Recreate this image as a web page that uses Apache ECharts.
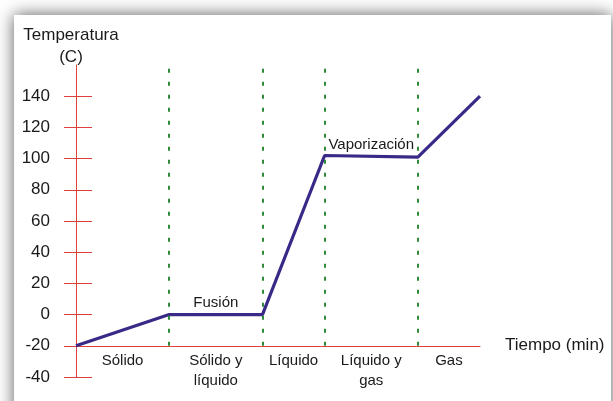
<!DOCTYPE html>
<html>
<head>
<meta charset="utf-8">
<script src="https://cdn.jsdelivr.net/npm/echarts@6/dist/echarts.min.js"></script>
<style>
html,body{margin:0;padding:0;background:#fff;}
#c{width:613px;height:401px;}
</style>
</head>
<body>
<div id="c"></div>
<script>
// Data
var timePoints = [0, 3, 6, 8, 11, 13];
var temperatures = [-20, 0, 0, 102, 101, 140];
var phaseBoundaries = [3, 6, 8, 11];
var phaseNames = ['Sólido', 'Sólido y\nlíquido', 'Líquido', 'Líquido y\ngas', 'Gas'];
var phaseCenters = [1.5, 4.5, 7, 9.5, 12];
var yTicks = [-40, -20, 0, 20, 40, 60, 80, 100, 120, 140];
var transitionLabels = ['Fusión', 'Vaporización'];
var transitionAt = [[4.5, 7.5], [9.5, 109]];

var FONT = '"Liberation Sans", Arial, Helvetica, sans-serif';
var RED = '#de4040';
var GREEN = '#2f8a3a';
var PURPLE = '#3a2a88';

var gridTop = 65, gridBottom = 24, H = 401;
var gridHeight = H - gridTop - gridBottom;
var yMin = -40, yMax = 160;
var xAxisOffset = -gridHeight * (-20 - yMin) / (yMax - yMin);

var chart = echarts.init(document.getElementById('c'), null, {renderer: 'canvas'});
var lineData = timePoints.map(function (t, i) { return [t, temperatures[i]]; });
var boundaryLines = phaseBoundaries.map(function (b) {
  return [{coord: [b, -20]}, {coord: [b, yMax]}];
});
var annoData = transitionLabels.map(function (n, i) {
  return {value: transitionAt[i], name: n};
});

chart.setOption({
  animation: false,
  backgroundColor: 'transparent',
  textStyle: {fontFamily: FONT},
  graphic: [{
    type: 'rect', z: -100, silent: true,
    shape: {x: 14, y: 15, width: 597, height: 420},
    style: {fill: '#fff', shadowBlur: 16, shadowColor: 'rgba(0,0,0,0.65)', shadowOffsetX: 0, shadowOffsetY: 0}
  }],
  grid: {left: 76, right: 133, top: gridTop, bottom: gridBottom, containLabel: false, outerBoundsMode: 'none'},
  xAxis: {
    type: 'value', min: 0, max: 13,
    position: 'bottom', offset: xAxisOffset,
    axisLine: {show: true, onZero: false, lineStyle: {color: RED, width: 1}},
    axisTick: {show: false},
    splitLine: {show: false},
    axisLabel: {
      customValues: phaseCenters,
      formatter: function (v) { return phaseNames[phaseCenters.indexOf(v)]; },
      color: '#1a1a1a', fontSize: 15, lineHeight: 20, margin: 5, fontFamily: FONT
    },
    name: 'Tiempo (min)', nameLocation: 'end', nameGap: 25,
    nameTextStyle: {color: '#1a1a1a', fontSize: 17, fontFamily: FONT, verticalAlign: 'middle'}
  },
  yAxis: [{
    type: 'value', min: yMin, max: yMax, interval: 20, position: 'left',
    axisLine: {show: true, onZero: false, lineStyle: {color: RED, width: 1}},
    axisTick: {show: true, inside: false, length: 12, customValues: yTicks, lineStyle: {color: RED, width: 1}},
    splitLine: {show: false},
    axisLabel: {customValues: yTicks, color: '#1a1a1a', fontSize: 17, margin: 26, fontFamily: FONT},
    name: 'Temperatura\n(C)', nameLocation: 'end', nameGap: -3,
    nameTextStyle: {color: '#1a1a1a', fontSize: 17, lineHeight: 22, align: 'center', verticalAlign: 'bottom', padding: [0, 10, 0, 0], fontFamily: FONT}
  }, {
    type: 'value', min: yMin, max: yMax, interval: 20, position: 'left',
    axisLine: {show: false, onZero: false},
    axisTick: {show: true, inside: true, length: 16, customValues: yTicks, lineStyle: {color: RED, width: 1}},
    splitLine: {show: false},
    axisLabel: {show: false}
  }],
  series: [{
    type: 'scatter', symbolSize: 0, data: annoData,
    itemStyle: {opacity: 1},
    label: {show: true, position: 'inside', formatter: function (p) { return p.name; },
      color: '#1a1a1a', fontSize: 15, fontFamily: FONT},
    markLine: {
      silent: true, symbol: ['none', 'none'], label: {show: false},
      lineStyle: {color: GREEN, width: 2, type: [4, 9], opacity: 1},
      data: boundaryLines
    },
    z: 1
  }, {
    type: 'line', data: lineData, symbol: 'none',
    lineStyle: {color: PURPLE, width: 3.2},
    z: 3
  }]
});
</script>
</body>
</html>
